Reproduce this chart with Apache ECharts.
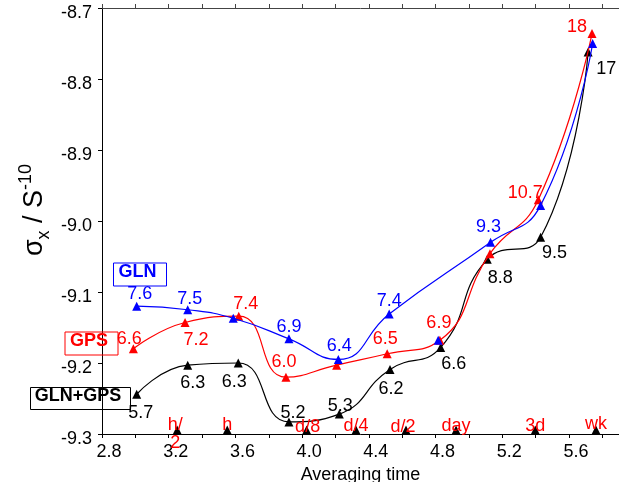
<!DOCTYPE html>
<html>
<head>
<meta charset="utf-8">
<script src="https://cdn.jsdelivr.net/npm/echarts@6/dist/echarts.min.js"></script>
<style>
html,body{margin:0;padding:0;background:#fff;}
#chart{width:619px;height:482px;}
</style>
</head>
<body>
<div id="chart"></div>
<script>
// ---- data (log10 averaging time in s, log10 sigma) ----
var glnX = [3.008, 3.314, 3.587, 3.921, 4.217, 4.522, 5.130, 5.430, 5.742];
var glnY = [-9.120, -9.125, -9.137, -9.166, -9.195, -9.131, -9.030, -8.978, -8.750];
var glnLabels = ['7.6', '7.5', '', '6.9', '6.4', '7.4', '9.3', '', ''];
// GLN marker that the GLN curve does not pass through
var glnExtraX = [4.816];
var glnExtraY = [-9.168];

var gpsX = [2.988, 3.298, 3.620, 3.903, 4.207, 4.510, 4.826, 5.126, 5.416, 5.738];
var gpsY = [-9.180, -9.143, -9.134, -9.220, -9.203, -9.187, -9.168, -9.046, -8.970, -8.736];
var gpsLabels = ['6.6', '7.2', '7.4', '6.0', '', '6.5', '6.9', '', '10.7', '18'];

var bothX = [3.008, 3.314, 3.617, 3.921, 4.223, 4.527, 4.831, 5.110, 5.430, 5.715];
var bothY = [-9.244, -9.203, -9.200, -9.283, -9.272, -9.209, -9.178, -9.054, -9.023, -8.762];
var bothLabels = ['5.7', '6.3', '6.3', '5.2', '5.3', '6.2', '6.6', '8.8', '9.5', '17'];

var timeX = [3.251, 3.551, 4.027, 4.323, 4.623, 4.923, 5.398, 5.762];
var timeLabels = ['h/\n2', 'h', 'd/8', 'd/4', 'd/2', 'day', '3d', 'wk'];

var xMin = 2.8, xMax = 5.9, yMin = -9.3, yMax = -8.7;

// ---- label placement (styling, offsets in px) ----
var glnOff = [[3,-12],[2,-11],null,[0,-12],[1,-13],[0,-13],[-2,-15],null,null];
var gpsOff = [[-4,-10],[11,18],[7,-12],[-2,-15],null,[-2,-15],[-1,-17],null,[-13,-7],[-15,-7]];
var bothOff = [[4,19],[5,18],[-4,19],[4,-9],[1,-8],[1,20],[13,17],[13,19],[14,16],[18,17]];
var timeOff = [[-2,4],[0,-5],[1,-3],[0,-4],[-3,-3],[0,-4],[0,-4],[0,-6]];

var FONT = "'Liberation Sans', Arial, sans-serif";
var LABEL_SIZE = 18;

function labelStyle(text, off, color) {
  return {
    show: true, position: 'inside', offset: off,
    formatter: text, color: color, fontSize: LABEL_SIZE, fontFamily: FONT,
    align: 'center', verticalAlign: 'middle', lineHeight: 18, opacity: 1,
    textBorderWidth: 0, textBorderColor: 'transparent', textShadowBlur: 0
  };
}

function buildData(xs, ys, labels, offs, color) {
  return xs.map(function (x, i) {
    var item = { value: [x, ys[i]] };
    item.label = labels[i] ? labelStyle(labels[i], offs[i], color) : { show: false };
    return item;
  });
}

function lineSeries(name, xs, ys, labels, offs, color, z) {
  return {
    name: name, type: 'line', smooth: 0.5, z: z,
    symbol: 'triangle', symbolSize: 9, showAllSymbol: true,
    itemStyle: { color: color, opacity: 1 },
    lineStyle: { color: color, width: 1.2 },
    clip: false,
    data: buildData(xs, ys, labels, offs, color)
  };
}

var timeData = timeX.map(function (x, i) {
  return { value: [x, yMin], label: labelStyle(timeLabels[i], timeOff[i], '#ff0000') };
});

var chart = echarts.init(document.getElementById('chart'), null, { renderer: 'canvas' });

var xAxisCommon = {
  type: 'value', min: xMin, max: xMax, interval: 0.2,
  splitLine: { show: false }
};

var option = {
  animation: false,
  backgroundColor: '#ffffff',
  grid: { left: 102, right: 0, top: 8, bottom: 48, containLabel: false, outerBoundsMode: 'none' },
  xAxis: [
    Object.assign({}, xAxisCommon, {
      position: 'bottom',
      name: 'Averaging time', nameLocation: 'middle', nameGap: 25,
      nameTextStyle: { fontSize: 18, fontFamily: FONT, color: '#000' },
      axisLine: { lineStyle: { color: '#000', width: 1 } },
      axisTick: { length: 4, lineStyle: { color: '#000' } },
      axisLabel: {
        fontSize: LABEL_SIZE, fontFamily: FONT, color: '#000', margin: 9,
        padding: [0, 0, 0, 14],
        showMaxLabel: false,
        formatter: function (v) {
          var k = Math.round(v * 10);
          return (k % 4 === 0) ? (k / 10).toFixed(1) : '';
        }
      }
    }),
    Object.assign({}, xAxisCommon, {
      position: 'top',
      axisLine: { lineStyle: { color: '#444', width: 1 } },
      axisTick: { length: 4, lineStyle: { color: '#444' } },
      axisLabel: { show: false }
    })
  ],
  yAxis: {
    type: 'value', min: yMin, max: yMax, interval: 0.1,
    splitLine: { show: false },
    axisLine: { show: true, lineStyle: { color: '#000', width: 1 } },
    axisTick: { show: true, length: 4, lineStyle: { color: '#000' } },
    axisLabel: {
      fontSize: LABEL_SIZE, fontFamily: FONT, color: '#000', margin: 10,
      verticalAlign: 'top', lineHeight: 10,
      formatter: function (v) { return v.toFixed(1); }
    }
  },
  series: [
    lineSeries('GLN+GPS', bothX, bothY, bothLabels, bothOff, '#000000', 3),
    lineSeries('GPS', gpsX, gpsY, gpsLabels, gpsOff, '#ff0000', 4),
    lineSeries('GLN', glnX, glnY, glnLabels, glnOff, '#0000ff', 5),
    {
      name: 'GLN extra', type: 'scatter', symbol: 'triangle', symbolSize: 9,
      z: 5, itemStyle: { color: '#0000ff', opacity: 1 },
      data: glnExtraX.map(function (x, i) { return [x, glnExtraY[i]]; })
    },
    {
      name: 'times', type: 'scatter', symbol: 'triangle', symbolSize: 9,
      symbolOffset: [0, -4], clip: false, z: 6,
      itemStyle: { color: '#000', opacity: 1 },
      data: timeData
    }
  ],
  graphic: [
    { type: 'rect', left: 111, top: 260.5, shape: { width: 53, height: 23 },
      style: { fill: 'none', stroke: '#0000ff', lineWidth: 1 }, z: 10 },
    { type: 'text', x: 137.5, y: 272.5,
      style: { text: 'GLN', fill: '#0000ff', font: 'bold 18px ' + FONT, align: 'center', verticalAlign: 'middle' }, z: 10 },
    { type: 'rect', left: 62.5, top: 329.5, shape: { width: 53, height: 23 },
      style: { fill: 'none', stroke: '#ff0000', lineWidth: 1 }, z: 10 },
    { type: 'text', x: 89, y: 341.5,
      style: { text: 'GPS', fill: '#ff0000', font: 'bold 18px ' + FONT, align: 'center', verticalAlign: 'middle' }, z: 10 },
    { type: 'rect', left: 28, top: 385, shape: { width: 100, height: 22 },
      style: { fill: 'none', stroke: '#000000', lineWidth: 1 }, z: 10 },
    { type: 'text', x: 78, y: 396.5,
      style: { text: 'GLN+GPS', fill: '#000000', font: 'bold 18px ' + FONT, align: 'center', verticalAlign: 'middle' }, z: 10 },
    { type: 'text', x: 35, y: 210, rotation: Math.PI / 2,
      style: {
        text: '{a|σ}{b|x}{a| / S}{c|-10}',
        align: 'center', verticalAlign: 'middle',
        rich: {
          a: { fontSize: 27, fontFamily: FONT, fill: '#000', lineHeight: 36, verticalAlign: 'middle' },
          b: { fontSize: 18, fontFamily: FONT, fill: '#000', lineHeight: 36, verticalAlign: 'bottom' },
          c: { fontSize: 18, fontFamily: FONT, fill: '#000', lineHeight: 36, verticalAlign: 'top' }
        }
      }, z: 10 }
  ]
};

chart.setOption(option);
</script>
</body>
</html>
